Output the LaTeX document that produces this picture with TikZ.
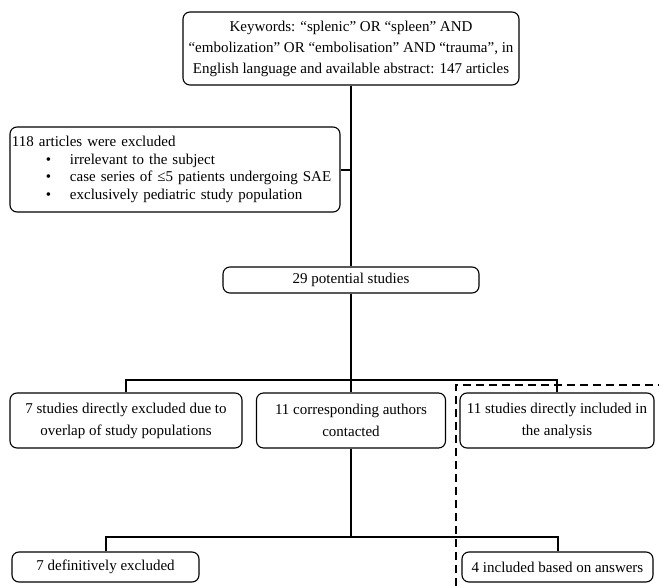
\documentclass[tikz,border=0pt]{standalone}
\usepackage{fontspec}
\setmainfont{Liberation Serif}
\begin{document}
\begin{tikzpicture}[x=1pt,y=1pt,
  box/.style={draw, line width=1.1pt, rounded corners=7pt, inner sep=0pt, align=center, font=\fontsize{15}{22}\selectfont},
  conn/.style={line width=2pt},
  dashline/.style={line width=2.4pt, dash pattern=on 8pt off 5pt}]
\useasboundingbox (0,0) rectangle (659,-586);
% boxes
\node[box, minimum width=336pt, minimum height=73pt, font=\fontsize{15}{21}\selectfont] (top) at (351,-48.5)
  {Keywords: “splenic” OR “spleen” AND\\“embolization” OR “embolisation” AND “trauma”, in\\English language and available abstract: 147 articles};
\node[box, minimum width=330pt, minimum height=85pt, align=left, text width=326pt, font=\fontsize{15}{17.5}\selectfont] (ex) at (175,-169.5)
  {118 articles were excluded\\
   \makebox[58pt][l]{\hspace{34pt}\textbullet}irrelevant to the subject\\
   \makebox[58pt][l]{\hspace{34pt}\textbullet}case series of ≤5 patients undergoing SAE\\
   \makebox[58pt][l]{\hspace{34pt}\textbullet}exclusively pediatric study population};
\node[box, minimum width=256pt, minimum height=26pt] (pot) at (351,-280) {29 potential studies};
\node[box, minimum width=232pt, minimum height=55pt] (a) at (126,-420.5) {7 studies directly excluded due to\\overlap of study populations};
\node[box, minimum width=189pt, minimum height=55pt] (b) at (351,-420.5) {11 corresponding authors\\contacted};
\node[box, minimum width=194pt, minimum height=55pt] (c) at (557,-420.5) {11 studies directly included in\\the analysis};
\node[box, minimum width=187pt, minimum height=30pt] (d) at (105.5,-567) {7 definitively excluded};
\node[box, minimum width=191pt, minimum height=30pt] (e) at (557.5,-567) {4 included based on answers};
% junctions
\coordinate (j1) at (351,-380);
\coordinate (j2) at (351,-537);
% connectors
\draw[conn] (top.south) -- (pot.north);
\draw[conn] (top.south |- ex.east) -- (ex.east);
\draw[conn] (pot.south) -- (b.north);
\draw[conn] (a.north) |- (j1) -| (c.north);
\draw[conn] (b.south) -- (j2);
\draw[conn] (d.north) |- (j2) -| (e.north);
% dashed separation
\coordinate (dv) at (456,-586);
\coordinate (dc) at (456,-385);
\coordinate (dh) at (659,-385);
\draw[dashline] (dv) -- (dc) -- (dh);
\end{tikzpicture}
\end{document}
